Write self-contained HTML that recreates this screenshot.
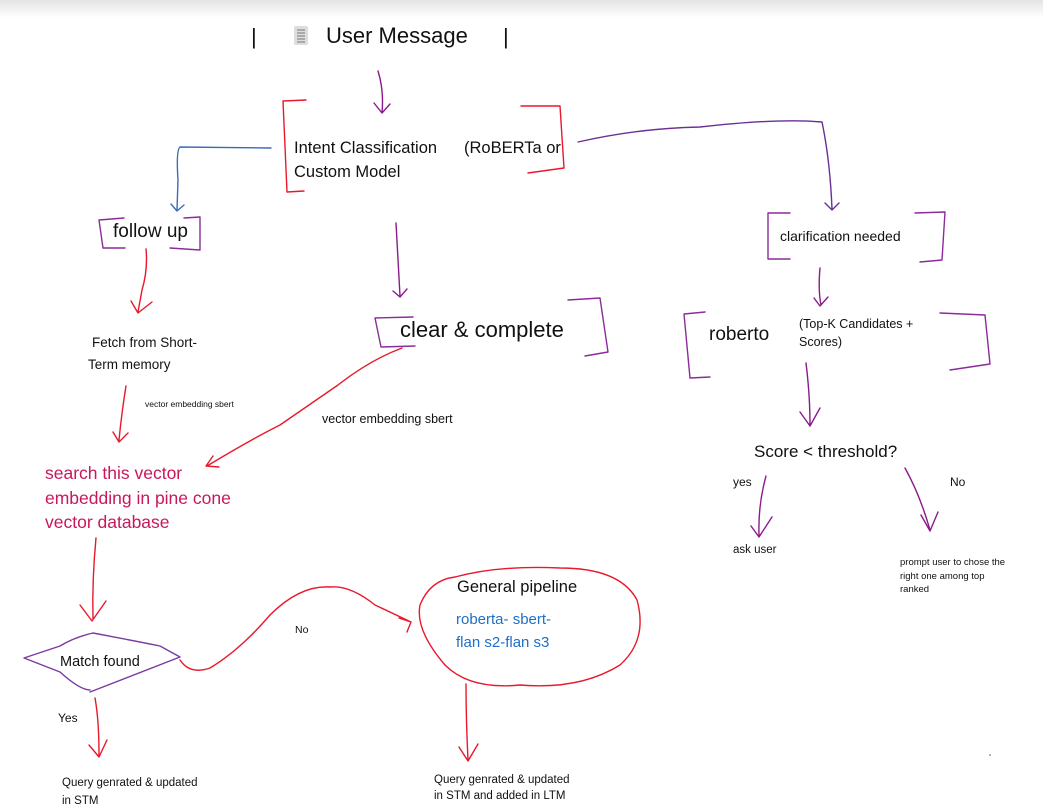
<!DOCTYPE html>
<html><head><meta charset="utf-8"><style>
html,body{margin:0;padding:0;background:#fff;}
svg{display:block;font-family:"Liberation Sans",sans-serif;}
</style></head><body>
<svg width="1043" height="811" viewBox="0 0 1043 811" xmlns="http://www.w3.org/2000/svg">
<defs><linearGradient id="top" x1="0" y1="0" x2="0" y2="1"><stop offset="0" stop-color="#e4e4e4"/><stop offset="1" stop-color="#fff"/></linearGradient></defs>
<rect width="1043" height="18" fill="url(#top)"/>
<g fill="none" stroke-width="1.4" stroke-linecap="round" stroke-linejoin="round">
<path d="M378,71 Q384,90 382,113 M374,103 L382,113 L390,104" stroke="#8b1a8b"/>
<path d="M306,100 L283,101 L287,192 L304,191" stroke="#e8192c"/>
<path d="M521,106 L560,106 L564,168 L528,173" stroke="#e8192c"/>
<path d="M271,148 L180,147 Q176,150 178,180 L177,210 M171,204 L177,211 L184,205" stroke="#3b6cb8"/>
<path d="M578,142 Q640,128 700,127 Q780,118 822,122 Q830,160 832,209 M825,203 L832,210 L839,203" stroke="#6b2f96"/>
<path d="M124,218 L99,220 L103,248 L125,248 M170,248 L200,250 L200,217 L184,218" stroke="#8b2c9a"/>
<path d="M146,249 Q148,270 142,290 L138,312 M131,301 L138,313 L152,302" stroke="#e8192c"/>
<path d="M396,223 Q398,260 400,296 M393,291 L400,297 L407,289" stroke="#8b1a8b"/>
<path d="M413,317 L375,318 L381,347 L415,346 M568,300 L600,298 L608,352 L585,356" stroke="#8b2c9a"/>
<path d="M402,348 Q370,360 338,385 L280,425 Q250,440 207,466 M213,456 L206,466 L219,467" stroke="#e8192c"/>
<path d="M126,386 Q122,410 119,440 M113,432 L119,442 L128,433" stroke="#e8192c"/>
<path d="M96,538 Q92,580 93,619 M80,605 L92,621 L106,601" stroke="#e8192c"/>
<path d="M93,633 Q75,637 60,646 L24,658 L60,672 Q80,690 90,690 M93,633 Q130,640 160,646 L180,657 L90,692" stroke="#7a3aa0"/>
<path d="M180,660 Q190,675 210,668 Q240,650 270,615 Q300,585 330,587 Q350,585 375,605 L411,622 M399,618 L411,622 L407,632" stroke="#e8192c"/>
<path d="M455,577 Q500,565 560,568 Q620,568 637,600 Q648,640 620,665 Q580,690 520,685 Q470,690 445,665 Q415,630 420,605 Q430,580 455,577" stroke="#e8192c"/>
<path d="M466,684 Q466,720 468,760 M459,747 L468,761 L478,744" stroke="#e8192c"/>
<path d="M95,698 Q99,720 99,755 M89,745 L99,757 L107,740" stroke="#e8192c"/>
<path d="M790,213 L768,213 L768,259 L790,259 M915,213 L945,212 L942,260 L920,262" stroke="#8b2c9a"/>
<path d="M820,268 Q818,290 821,305 M814,298 L820,306 L828,297" stroke="#8b1a8b"/>
<path d="M705,312 L684,314 L690,378 L710,377 M940,313 L985,315 L990,364 L950,370" stroke="#8b2c9a"/>
<path d="M806,363 Q810,395 810,425 M800,412 L810,426 L820,408" stroke="#8b1a8b"/>
<path d="M766,476 Q758,505 759,535 M751,526 L759,537 L772,517" stroke="#8b1a8b"/>
<path d="M905,468 Q920,495 930,530 M921,515 L930,531 L938,512" stroke="#8b1a8b"/>
</g>
<g fill="#111">
<text x="251" y="44" font-size="22">|</text>
<text x="503" y="44" font-size="22">|</text>
<rect x="294" y="26" width="14" height="19" rx="2" fill="#ddd"/>
<path d="M297,30h8M297,33h8M297,36h8M297,39h8M297,42h8" stroke="#777" stroke-width="1"/>
<text x="326" y="43" font-size="22">User Message</text>
<text x="294" y="153" font-size="16.5">Intent Classification</text>
<text x="464" y="153" font-size="16.5">(RoBERTa or</text>
<text x="294" y="177" font-size="16.5">Custom Model</text>
<text x="113" y="237" font-size="19">follow up</text>
<text x="400" y="337" font-size="22">clear &amp; complete</text>
<text x="92" y="347" font-size="13.5">Fetch from Short-</text>
<text x="88" y="369" font-size="13.5">Term memory</text>
<text x="145" y="407" font-size="8.5">vector embedding sbert</text>
<text x="322" y="423" font-size="12.5">vector embedding sbert</text>
<g fill="#c8185c" font-size="17.5"><text x="45" y="479">search this vector</text><text x="45" y="504">embedding in pine cone</text><text x="45" y="528">vector database</text></g>
<text x="60" y="666" font-size="14.5">Match found</text>
<text x="295" y="633" font-size="10.5">No</text>
<text x="457" y="592" font-size="16.5">General pipeline</text>
<g fill="#1e6fc8" font-size="15"><text x="456" y="624">roberta- sbert-</text><text x="456" y="647">flan s2-flan s3</text></g>
<text x="58" y="722" font-size="12">Yes</text>
<text x="62" y="786" font-size="11.5">Query genrated &amp; updated</text>
<text x="62" y="804" font-size="11.5">in STM</text>
<text x="434" y="783" font-size="11.5">Query genrated &amp; updated</text>
<text x="434" y="799" font-size="11.5">in STM and added in LTM</text>
<text x="780" y="241" font-size="14">clarification needed</text>
<text x="709" y="340" font-size="19">roberto</text>
<text x="799" y="328" font-size="12.5">(Top-K Candidates +</text>
<text x="799" y="346" font-size="12.5">Scores)</text>
<text x="754" y="457" font-size="17">Score &lt; threshold?</text>
<text x="733" y="486" font-size="12">yes</text>
<text x="950" y="486" font-size="12">No</text>
<text x="733" y="553" font-size="11.5">ask user</text>
<text x="900" y="565" font-size="9.5">prompt user to chose the</text>
<text x="900" y="579" font-size="9.5">right one among top</text>
<text x="900" y="592" font-size="9.5">ranked</text>
<circle cx="990" cy="755" r="0.8" fill="#555"/>
</g>
</svg>
</body></html>
